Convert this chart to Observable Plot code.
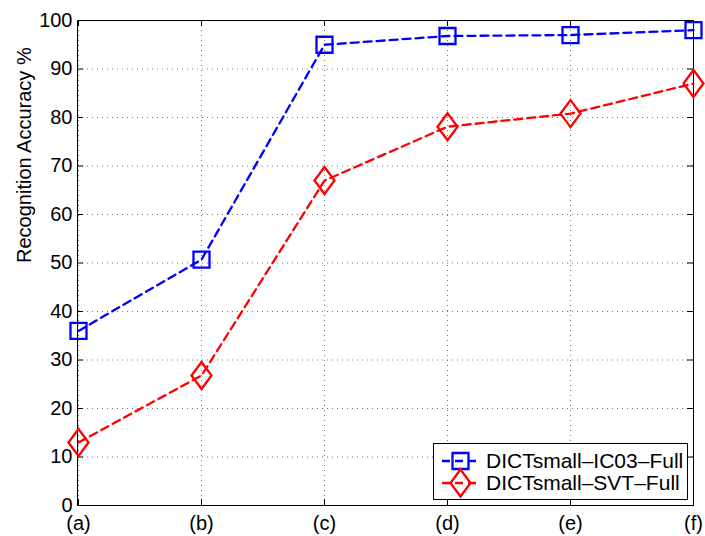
<!DOCTYPE html>
<html>
<head>
<meta charset="utf-8">
<script src="https://cdn.jsdelivr.net/npm/d3@7"></script>
<script src="https://cdn.jsdelivr.net/npm/@observablehq/plot@0.6"></script>
<style>
  html, body { margin: 0; padding: 0; background: #fff; }
</style>
</head>
<body>
<div id="chart"></div>
<script>
const categories = ["(a)", "(b)", "(c)", "(d)", "(e)", "(f)"];
const ic03Values = [36, 50.7, 95, 96.8, 97, 98];
const svtValues = [13, 26.8, 67, 78.1, 80.8, 87];
const yTicks = [0, 10, 20, 30, 40, 50, 60, 70, 80, 90, 100];
const seriesNames = ["DICTsmall–IC03–Full", "DICTsmall–SVT–Full"];
const seriesColors = ["#0000ff", "#ff0000"];

const W = 705, H = 536;
const mL = 77, mR = 12, mT = 20, mB = 31;
const pw = W - mL - mR, ph = H - mT - mB;
const tickLen = 6;
const FONT = "'Liberation Sans', Arial, Helvetica, sans-serif";

const squareSym = { draw(ctx) { ctx.rect(-8, -8, 16, 16); } };
const diamondSym = { draw(ctx) { ctx.moveTo(0, -13.5); ctx.lineTo(10, 0); ctx.lineTo(0, 13.5); ctx.lineTo(-10, 0); ctx.closePath(); } };

const ic03 = categories.map((c, i) => ({ x: c, y: ic03Values[i] }));
const svt = categories.map((c, i) => ({ x: c, y: svtValues[i] }));

const chart = Plot.plot({
  width: W, height: H,
  marginLeft: mL, marginRight: mR, marginTop: mT, marginBottom: mB,
  style: { fontFamily: FONT, fontSize: "20px", background: "#fff", color: "#000", overflow: "visible" },
  x: { type: "point", domain: categories, padding: 0 },
  y: { domain: [0, 100] },
  marks: [
    Plot.gridY(yTicks, { stroke: "#777", strokeOpacity: 1, strokeWidth: 1, strokeDasharray: "1,4" }),
    Plot.gridX(categories, { stroke: "#777", strokeOpacity: 1, strokeWidth: 1, strokeDasharray: "1,4" }),
    Plot.frame({ stroke: "#000", strokeWidth: 1 }),
    // inside ticks
    Plot.tickY(yTicks, { y: d => d, stroke: "#000", insetRight: pw - tickLen }),
    Plot.tickY(yTicks, { y: d => d, stroke: "#000", insetLeft: pw - tickLen }),
    Plot.tickX(categories, { x: d => d, stroke: "#000", insetTop: ph - tickLen }),
    Plot.tickX(categories, { x: d => d, stroke: "#000", insetBottom: ph - tickLen }),
    Plot.axisY(yTicks, { tickSize: 0, tickPadding: 5, label: null, fontSize: 20 }),
    Plot.axisX(categories, { tickSize: 0, tickPadding: 10, label: null, fontSize: 20 }),
    Plot.text(["Recognition Accuracy %"], { frameAnchor: "left", dx: -53, rotate: -90, fontSize: 20 }),
    Plot.line(ic03, { x: "x", y: "y", stroke: seriesColors[0], strokeWidth: 2.3, strokeDasharray: "8,5" }),
    Plot.line(svt, { x: "x", y: "y", stroke: seriesColors[1], strokeWidth: 2.3, strokeDasharray: "8,5" }),
    Plot.dot(ic03, { x: "x", y: "y", symbol: squareSym, stroke: seriesColors[0], strokeWidth: 2.3, fill: "none" }),
    Plot.dot(svt, { x: "x", y: "y", symbol: diamondSym, stroke: seriesColors[1], strokeWidth: 2.3, fill: "none" })
  ]
});

// legend
const svg = d3.select(chart);
const lg = svg.append("g").attr("font-family", FONT).attr("font-size", 21).attr("text-anchor", "start");
lg.append("rect").attr("x", 433.5).attr("y", 443.5).attr("width", 254).attr("height", 56)
  .attr("fill", "#fff").attr("stroke", "#000").attr("stroke-width", 1);
const rows = [461, 483];
const syms = [squareSym, diamondSym];
rows.forEach((ry, i) => {
  lg.append("line").attr("x1", 441).attr("x2", 480).attr("y1", ry).attr("y2", ry)
    .attr("stroke", seriesColors[i]).attr("stroke-width", 2.3).attr("stroke-dasharray", "8,5").attr("stroke-dashoffset", -1);
  lg.append("path").attr("transform", `translate(460.5,${ry})`)
    .attr("d", d3.symbol(syms[i])())
    .attr("fill", "none").attr("stroke", seriesColors[i]).attr("stroke-width", 2.3);
  lg.append("text").attr("x", 486).attr("y", ry).attr("dy", "0.35em").attr("text-anchor", "start").attr("fill", "#000").text(seriesNames[i]);
});

document.getElementById("chart").appendChild(chart);
</script>
</body>
</html>
